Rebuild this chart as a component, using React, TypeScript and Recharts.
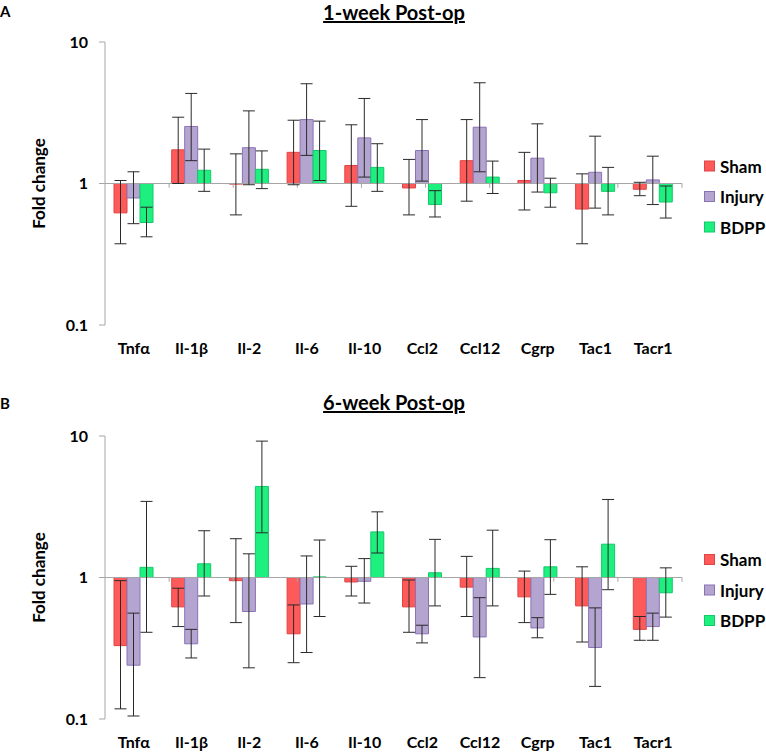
import React from 'react';
import { BarChart, Bar, XAxis, YAxis, ErrorBar, ReferenceLine } from 'recharts';

const FONT = 'Lato, "Open Sans", sans-serif';

const genes = ['Tnfα', 'Il-1β', 'Il-2', 'Il-6', 'Il-10', 'Ccl2', 'Ccl12', 'Cgrp', 'Tac1', 'Tacr1'];
const seriesNames = ['Sham', 'Injury', 'BDPP'];
const fills = ['#FF5A5A', '#B4A5D0', '#1DF07F'];
const strokes = ['#E04545', '#8A72B5', '#14C86A'];
const yTickValues = [0.1, 1, 10];
const boundaries = [1, 2, 3, 4, 5, 6, 7, 8, 9, 10];

// 1-week post-op fold changes and error-bar bounds
const w1Sham = [0.62, 1.73, 0.99, 1.66, 1.34, 0.93, 1.45, 1.05, 0.66, 0.91];
const w1ShamLo = [0.375, 1.0, 0.6, 0.98, 0.69, 0.6, 0.75, 0.65, 0.375, 0.82];
const w1ShamHi = [1.05, 2.94, 1.62, 2.8, 2.6, 1.48, 2.83, 1.66, 1.17, 1.02];
const w1Injury = [0.79, 2.53, 1.79, 2.83, 2.1, 1.71, 2.5, 1.51, 1.2, 1.06];
const w1InjuryLo = [0.52, 1.45, 0.98, 1.58, 1.11, 1.04, 1.21, 0.87, 0.67, 0.71];
const w1InjuryHi = [1.21, 4.33, 3.26, 5.07, 3.99, 2.83, 5.15, 2.64, 2.16, 1.56];
const w1BDPP = [0.53, 1.24, 1.26, 1.71, 1.3, 0.71, 1.11, 0.86, 0.88, 0.74];
const w1BDPPLo = [0.42, 0.88, 0.92, 1.05, 0.88, 0.58, 0.85, 0.68, 0.6, 0.57];
const w1BDPPHi = [0.68, 1.75, 1.7, 2.76, 1.91, 0.89, 1.44, 1.09, 1.3, 0.96];

// 6-week post-op fold changes and error-bar bounds
const w6Sham = [0.33, 0.62, 0.95, 0.4, 0.93, 0.62, 0.855, 0.73, 0.63, 0.43];
const w6ShamLo = [0.118, 0.45, 0.48, 0.25, 0.74, 0.41, 0.53, 0.48, 0.35, 0.36];
const w6ShamHi = [0.95, 0.84, 1.88, 0.64, 1.2, 0.96, 1.41, 1.11, 1.19, 0.53];
const w6Injury = [0.24, 0.34, 0.575, 0.65, 0.94, 0.4, 0.38, 0.44, 0.32, 0.45];
const w6InjuryLo = [0.105, 0.27, 0.23, 0.295, 0.66, 0.345, 0.196, 0.375, 0.17, 0.36];
const w6InjuryHi = [0.56, 0.43, 1.47, 1.42, 1.36, 0.46, 0.72, 0.52, 0.61, 0.56];
const w6BDPP = [1.18, 1.25, 4.4, 1.01, 2.1, 1.08, 1.16, 1.19, 1.72, 0.78];
const w6BDPPLo = [0.41, 0.74, 2.07, 0.53, 1.49, 0.63, 0.63, 0.76, 0.82, 0.525];
const w6BDPPHi = [3.45, 2.14, 9.2, 1.84, 2.91, 1.86, 2.16, 1.85, 3.56, 1.17];

function buildRows(vals: number[][], lo: number[][], hi: number[][]) {
  return genes.map((g, i) => {
    const row: any = { gene: g };
    seriesNames.forEach((s, k) => {
      const v = Math.log10(vals[k][i]);
      row[s] = v;
      row[s + 'Err'] = [v - Math.log10(lo[k][i]), Math.log10(hi[k][i]) - v];
    });
    return row;
  });
}

const rows1 = buildRows([w1Sham, w1Injury, w1BDPP], [w1ShamLo, w1InjuryLo, w1BDPPLo], [w1ShamHi, w1InjuryHi, w1BDPPHi]);
const rows6 = buildRows([w6Sham, w6Injury, w6BDPP], [w6ShamLo, w6InjuryLo, w6BDPPLo], [w6ShamHi, w6InjuryHi, w6BDPPHi]);

const AXIS = '#A6A6A6';
const PLOT_H = 283;

function formatTick(v: number) {
  return String(+Math.pow(10, v).toPrecision(3));
}

function Panel({ rows, height, top }: { rows: any[]; height: number; top: number }) {
  return (
    <BarChart
      width={766}
      height={height}
      data={rows}
      margin={{ top, right: 84, bottom: 5, left: 0 }}
      barSize={13}
      barGap={0}
    >
      <XAxis
        dataKey="gene"
        axisLine={false}
        tickLine={false}
        interval={0}
        tickMargin={12}
        height={height - top - PLOT_H - 5}
        tick={{ fontFamily: FONT, fontSize: 16, fontWeight: 700, fill: '#000' }}
      />
      <XAxis xAxisId="num" type="number" domain={[0, 10]} hide />
      <YAxis
        type="number"
        domain={[-1, 1]}
        ticks={yTickValues.map((t) => Math.log10(t))}
        tickFormatter={formatTick}
        width={105}
        stroke={AXIS}
        tickSize={6}
        tickMargin={11}
        tick={{ fontFamily: FONT, fontSize: 16, fontWeight: 700, fill: '#000' }}
        label={{
          position: 'insideLeft',
          content: (p: any) => {
            const vb = p.viewBox || { x: 0, y: top, width: 105, height: PLOT_H };
            const cx = vb.x + 45;
            const cy = vb.y + vb.height / 2;
            return (
              <text
                x={cx}
                y={cy}
                transform={`rotate(-90 ${cx} ${cy})`}
                textAnchor="middle"
                fontFamily={FONT}
                fontSize={17}
                fontWeight={700}
                fill="#000"
              >
                Fold change
              </text>
            );
          },
        }}
      />
      <ReferenceLine y={0} stroke={AXIS} strokeWidth={1} />
      {boundaries.map((b) => (
        <ReferenceLine
          key={b}
          xAxisId="num"
          segment={[
            { x: b, y: 0 },
            { x: b, y: -0.03 },
          ]}
          stroke={AXIS}
          strokeWidth={1}
        />
      ))}
      {seriesNames.map((s, k) => (
        <Bar key={s} dataKey={s} fill={fills[k]} stroke={strokes[k]} strokeWidth={1} isAnimationActive={false}>
          <ErrorBar dataKey={s + 'Err'} width={6} stroke="#2A2A2A" strokeWidth={1} direction="y" />
        </Bar>
      ))}
    </BarChart>
  );
}

function Legend({ centers }: { centers: number[] }) {
  return (
    <g>
      {seriesNames.map((s, k) => (
        <g key={s}>
          <rect x={704.5} y={centers[k] - 5.5} width={10} height={10} fill={fills[k]} stroke={strokes[k]} strokeWidth={1} />
          <text x={720} y={centers[k] + 6} fontFamily={FONT} fontSize={17} fontWeight={700} fill="#000">
            {s}
          </text>
        </g>
      ))}
    </g>
  );
}

export default function App() {
  return (
    <div style={{ position: 'absolute', left: 0, top: 0, width: 766, height: 753, background: '#fff', overflow: 'hidden' }}>
      <div style={{ position: 'absolute', left: 0, top: 0 }}>
        <Panel rows={rows1} height={360} top={42} />
      </div>
      <div style={{ position: 'absolute', left: 0, top: 360 }}>
        <Panel rows={rows6} height={393} top={76} />
      </div>
      <svg width={766} height={753} style={{ position: 'absolute', left: 0, top: 0, pointerEvents: 'none' }}>
        <text x={0} y={17} fontFamily={FONT} fontSize={15} fontWeight={700} fill="#000">A</text>
        <text x={0} y={409} fontFamily={FONT} fontSize={15} fontWeight={700} fill="#000">B</text>
        <text x={394} y={20} textAnchor="middle" fontFamily={FONT} fontSize={20} fontWeight={700} fill="#000" style={{ textDecoration: 'underline' }}>
          1-week Post-op
        </text>
        <text x={394} y={410} textAnchor="middle" fontFamily={FONT} fontSize={20} fontWeight={700} fill="#000" style={{ textDecoration: 'underline' }}>
          6-week Post-op
        </text>
        <Legend centers={[166.5, 197, 227.5]} />
        <Legend centers={[560, 590.5, 621]} />
      </svg>
    </div>
  );
}
